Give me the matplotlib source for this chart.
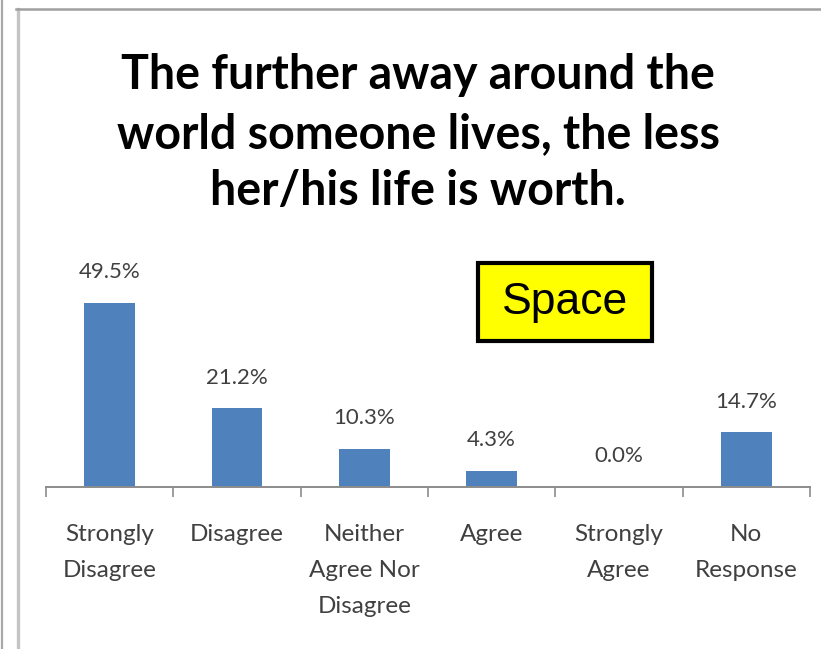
import matplotlib
matplotlib.use("Agg")
import matplotlib.pyplot as plt
from matplotlib.patches import Rectangle
from matplotlib.lines import Line2D

# ---- data ------------------------------------------------------------------
categories = ["Strongly\nDisagree", "Disagree", "Neither\nAgree Nor\nDisagree",
              "Agree", "Strongly\nAgree", "No\nResponse"]
values = [49.5, 21.2, 10.3, 4.3, 0.0, 14.7]
title_lines = ["The further away around the",
               "world someone lives, the less",
               "her/his life is worth."]

W, H = 821, 649
BLUE = "#4F81BD"
TXT = "#404040"
AXIS = "#8c8c8c"


def fx(px):
    return px / W


def fy(py):
    return 1 - py / H


fig = plt.figure(figsize=(W / 100, H / 100), dpi=100)
fig.patch.set_facecolor("white")

# ---- frame lines (slide border) --------------------------------------------
fig.add_artist(Line2D([fx(2), fx(2)], [0, 1], color="#a8a8a8", lw=1.6))
fig.add_artist(Line2D([fx(17.5), fx(17.5)], [0, fy(9)], color="#c4c4c4", lw=2.4))
fig.add_artist(Line2D([fx(16), 1], [fy(9), fy(9)], color="#a0a0a0", lw=1.8))

# ---- title -----------------------------------------------------------------
for line, yc in zip(title_lines, [75, 134, 191]):
    fig.text(fx(418), fy(yc), line, ha="center", va="center", fontsize=33.5,
             weight="bold", color="black", family="Lato")

# ---- bars ------------------------------------------------------------------
ax = fig.add_axes([fx(46), fy(487), fx(810) - fx(46), fy(250) - fy(487)])
x = range(len(values))
ax.bar(x, values, width=0.4, color=BLUE, zorder=2)
ax.set_xlim(-0.5, len(values) - 0.5)
ax.set_ylim(0, (487 - 250) / 3.72)
for s in ("top", "right", "left"):
    ax.spines[s].set_visible(False)
ax.spines["bottom"].set_color(AXIS)
ax.spines["bottom"].set_linewidth(1.4)
ax.set_yticks([])
ax.set_xticks([i - 0.5 for i in range(len(values) + 1)])
ax.set_xticklabels([])
ax.tick_params(axis="x", length=7, width=1.2, color=AXIS, direction="out")

for i, v in enumerate(values):
    ax.annotate(f"{v:.1f}%", (i, v), xytext=(0, 22), textcoords="offset points",
                ha="center", va="center", fontsize=16, color=TXT, family="Lato")
    ax.annotate(categories[i], (i, 0), xytext=(0, -26.5), textcoords="offset points",
                ha="center", va="top", fontsize=17.5, color=TXT, family="Lato",
                linespacing=1.88, annotation_clip=False)

# ---- "Space" tag -----------------------------------------------------------
fig.add_artist(Rectangle((fx(478), fy(341)), fx(652) - fx(478), fy(263) - fy(341),
                         transform=fig.transFigure, facecolor="#ffff00",
                         edgecolor="black", lw=3))
fig.text(fx(565), fy(302), "Space", ha="center", va="center", fontsize=32,
         color="black", family="Liberation Sans")

fig.savefig("out.png", dpi=100, facecolor="white")
